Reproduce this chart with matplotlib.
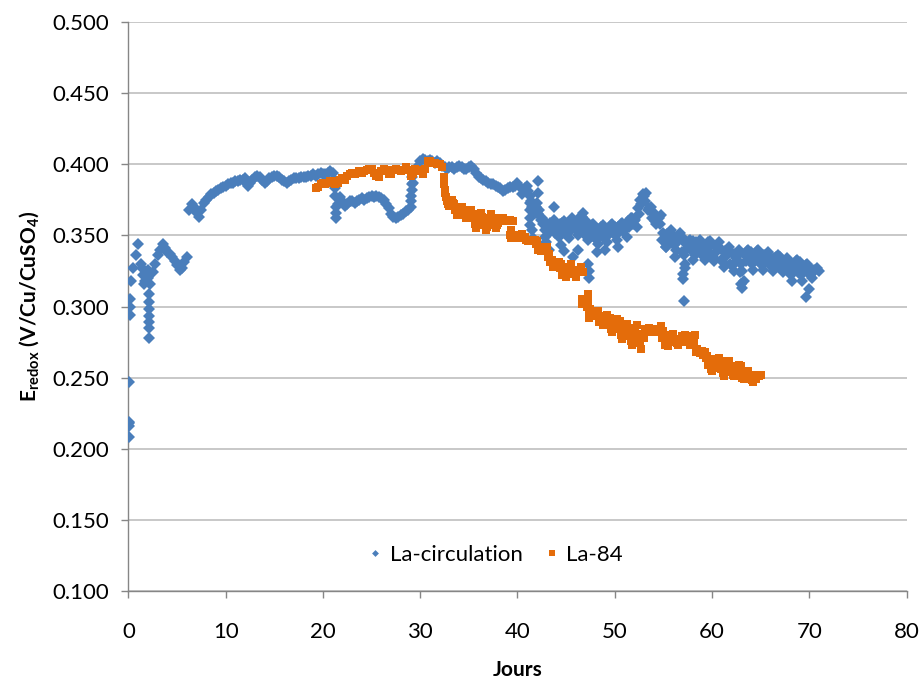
import numpy as np
import matplotlib
matplotlib.use("Agg")
import matplotlib.pyplot as plt

plt.rcParams['font.family'] = ['Lato', 'DejaVu Sans']
plt.rcParams['mathtext.fontset'] = 'custom'
plt.rcParams['mathtext.rm'] = 'Lato'
plt.rcParams['mathtext.bf'] = 'Lato:bold'
plt.rcParams['mathtext.it'] = 'Lato:italic'

# ---- La-circulation : logged every 6 h, redox potential in mV ----
circ_start = 0.0      # days
circ_step = 0.25      # days between readings
circ_mv = [
    300, 318, 327, 336, 344, 330, 322, 318, 320, 316, 324, 330,   # 0 - 2.75
    336, 340, 344, 341, 338, 337, 335, 332, 329, 326, 327, 331,   # 3 - 5.75
    335, 368, 372, 370, 366, 363, 368, 373, 375, 377, 379, 380,   # 6 - 8.75
    381, 382, 383, 384, 385, 386, 387, 387, 388, 388, 389, 389,   # 9 - 11.75
    390, 385, 387, 389, 391, 392, 391, 389, 387, 388, 390, 391,   # 12 - 14.75
    392, 392, 391, 389, 388, 387, 388, 389, 390, 390, 390, 391,   # 15 - 17.75
    391, 391, 392, 392, 393, 392, 393, 394, 393, 393, 394, 395,   # 18 - 20.75
    394, 383, 372, 377, 374, 371, 372, 374, 374, 373, 374, 375,   # 21 - 23.75
    376, 375, 376, 377, 378, 377, 378, 377, 376, 375, 372, 369,   # 24 - 26.75
    365, 363, 362, 363, 364, 365, 367, 368, 370, 387, 395, 399,   # 27 - 29.75
    402, 404, 403, 402, 403, 402, 401, 402, 401, 399, 398, 397,   # 30 - 32.75
    398, 398, 397, 398, 399, 398, 397, 397, 398, 399, 397, 394,   # 33 - 35.75
    391, 390, 389, 388, 387, 386, 386, 385, 384, 383, 381, 382,   # 36 - 38.75
    383, 384, 384, 385, 387, 384, 379, 383, 385, 378, 370, 366,   # 39 - 41.75
    373, 368, 362, 360, 357, 352, 356, 361, 356, 349, 355, 360,   # 42 - 44.75
    357, 348, 354, 360, 358, 350, 357, 366, 360, 347, 352, 358,   # 45 - 47.75
    355, 344, 350, 357, 354, 345, 352, 358, 356, 347, 353, 359,   # 48 - 50.75
    357, 349, 356, 362, 360, 356, 365, 372, 378, 380, 369, 370,   # 51 - 53.75
    366, 358, 362, 364, 352, 342, 348, 354, 350, 340, 346, 352,   # 54 - 56.75
    348, 330, 341, 347, 346, 336, 342, 347, 344, 333, 340, 346,   # 57 - 59.75
    344, 332, 339, 345, 340, 328, 336, 342, 338, 325, 334, 340,   # 60 - 62.75
    330, 318, 332, 340, 338, 326, 334, 340, 337, 326, 333, 338,   # 63 - 65.75
    335, 325, 331, 336, 335, 324, 330, 334, 331, 318, 327, 333,   # 66 - 68.75
    331, 318, 326, 330, 328, 320, 325, 327, 325,                  # 69 - 71
]

# intermediate readings (3 h offset) over the unsettled period
circ_mid_start = 41.125
circ_mid_step = 0.25
circ_mid_mv = [
    381, 374, 368, 370, 365, 361, 358, 354, 354, 359, 358, 352,   # 41.1 - 43.9
    352, 358, 359, 352, 351, 357, 362, 355, 353, 362, 363, 353,   # 44.1 - 46.9
    349, 355, 357, 349, 347, 354, 356, 349, 349, 355, 357, 351,   # 47.1 - 49.9
    350, 356, 358, 353, 355, 360, 362, 358, 361, 369, 375, 379,   # 50.1 - 52.9
    374, 368, 368, 362, 360, 363, 358, 347, 345, 351, 352, 345,   # 53.1 - 55.9
    343, 349, 350, 338, 336, 344, 346, 340, 339, 345, 345, 337,   # 56.1 - 58.9
    336, 343, 345, 336, 335, 342, 342, 333, 331, 339, 339, 330,   # 59.1 - 61.9
    329, 337, 336, 324, 325, 336, 339, 332, 330, 337, 339, 331,   # 62.1 - 64.9
    329, 336, 337, 330, 328, 334, 335, 329, 327, 332, 333, 325,   # 65.1 - 67.9
    322, 330, 332, 324, 322, 328, 329, 324, 322, 326, 326,        # 68.1 - 70.6
]

# isolated readings (start-up, sudden steps and spikes)
circ_extra_days = [0.05, 0.05, 0.07, 0.10, 0.10, 0.15, 0.20, 0.12,
                   1.40, 1.60, 1.80, 2.00,
                   2.10, 2.10, 2.10, 2.15, 2.15, 2.15, 2.10,
                   21.20, 21.25, 21.30, 21.30, 21.35,
                   29.10, 29.10, 29.15, 29.20, 29.20,
                   41.30, 41.30, 41.30, 41.30, 41.50, 41.60, 42.10, 42.10,
                   42.60, 42.80, 42.90, 43.20, 43.80, 44.50, 44.80, 45.70,
                   46.20, 47.30, 47.40, 47.40, 48.20, 49.00, 50.30,
                   55.30, 56.20, 57.00, 57.00, 57.10, 57.20, 58.00,
                   63.00, 63.10, 69.70, 70.00]
circ_extra_mv = [208, 216, 218, 219, 247, 294, 305, 300,
                 327, 316, 324, 326,
                 309, 303, 298, 293, 289, 285, 278,
                 388, 378, 370, 366, 362,
                 374, 378, 382, 386, 391,
                 373, 368, 362, 357, 354, 348, 388, 380,
                 361, 349, 345, 340, 370, 343, 339, 335,
                 340, 330, 325, 320, 338, 340, 342,
                 342, 335, 323, 319, 304, 327, 333,
                 316, 313, 307, 312]

# ---- La-84 : logged every 6 h, redox potential in mV ----
la84_start = 19.25
la84_step = 0.25
la84_mv = [
    383, 384, 386,                                                # 19.25 - 19.75
    387, 386, 387, 388, 388, 386, 387, 389, 390, 389, 392, 393,   # 20 - 22.75
    394, 393, 394, 395, 394, 395, 396, 397, 397, 394, 392, 391,   # 23 - 25.75
    395, 397, 396, 393, 393, 396, 397, 396, 395, 396, 398, 396,   # 26 - 28.75
    392, 393, 397, 396, 395, 393, 397, 402, 402, 401, 401, 400,   # 29 - 31.75
    400, 398, 380, 374, 371, 375, 372, 364, 366, 370, 366, 362,   # 32 - 34.75
    364, 368, 362, 355, 360, 366, 360, 354, 359, 365, 360, 355,   # 35 - 37.75
    359, 362, 362, 360, 360, 361, 360, 349, 348, 350, 351, 349,   # 38 - 40.75
    347, 347, 346, 347, 346, 342, 339, 340, 342, 337, 333, 329,   # 41 - 43.75
    328, 331, 330, 324, 321, 327, 330, 326, 321, 325, 328, 324,   # 44 - 46.75
    302, 303, 298, 296, 293, 297, 292, 287, 291, 294, 292, 282,   # 47 - 49.75
    287, 291, 290, 277, 283, 288, 285, 273, 280, 287, 280, 270,   # 50 - 52.75
    278, 283, 285, 283, 282, 283, 282, 286, 283, 274, 272, 280,   # 53 - 55.75
    281, 277, 273, 276, 279, 280, 277, 273, 278, 280, 270, 267,   # 56 - 58.75
    269, 268, 265, 263, 255, 257, 262, 264, 262, 251, 256, 262,   # 59 - 61.75
    258, 251, 253, 259, 258, 249, 252, 255, 252, 247, 249, 252,   # 62 - 64.75
    252,                                                          # 65
]

# intermediate readings (3 h offset) once the potential starts to fall
la84_mid_start = 32.625
la84_mid_step = 0.25
la84_mid_mv = [
    377, 372, 373, 373, 368, 365, 368, 368, 364, 363, 366, 365,   # 32.6 - 35.4
    358, 357, 363, 363, 357, 356, 362, 362, 357, 357, 360, 362,   # 35.6 - 38.4
    361, 360, 360, 354, 348, 349, 350, 350, 348, 347, 346, 346,   # 38.6 - 41.4
    346, 344, 340, 339, 341, 339, 335, 331, 328, 330, 330, 327,   # 41.6 - 44.4
    322, 324, 328, 328, 323, 323, 326, 326, 305, 302, 300, 297,   # 44.6 - 47.4
    294, 295, 294, 289, 289, 292, 293, 287, 284, 289, 290, 284,   # 47.6 - 50.4
    280, 286, 286, 279, 276, 283, 283, 275, 274, 281, 284, 284,   # 50.6 - 53.4
    282, 282, 282, 284, 284, 278, 273, 276, 280, 279, 275, 274,   # 53.6 - 56.4
    277, 279, 278, 275, 275, 279, 275, 268, 268, 268, 266, 264,   # 56.6 - 59.4
    259, 256, 259, 263, 263, 256, 253, 259, 260, 254, 252, 256,   # 59.6 - 62.4
    258, 253, 250, 253, 253, 249, 248, 250, 251, 251,             # 62.6 - 64.9
]

la84_extra_days = [32.40, 32.45, 32.50, 39.20, 39.30, 46.60, 47.30, 47.40, 47.40]
la84_extra_mv = [391, 386, 382, 350, 348, 302, 309, 297, 292]


def series_days(start, step, values):
    """Reading times for a regularly logged block of values."""
    return start + step * np.arange(len(values))


circ_x = np.concatenate([series_days(circ_start, circ_step, circ_mv),
                         series_days(circ_mid_start, circ_mid_step, circ_mid_mv),
                         circ_extra_days])
circ_y = np.concatenate([circ_mv, circ_mid_mv, circ_extra_mv]) / 1000.0
la84_x = np.concatenate([series_days(la84_start, la84_step, la84_mv),
                         series_days(la84_mid_start, la84_mid_step, la84_mid_mv),
                         la84_extra_days])
la84_y = np.concatenate([la84_mv, la84_mid_mv, la84_extra_mv]) / 1000.0

blue = '#4A7EBB'
orange = '#E46C0A'
grid_col = '#BFBFBF'
axis_col = '#868686'

fig = plt.figure(figsize=(9.19, 6.79), dpi=100)
ax = fig.add_axes([0.1398, 0.1296, 0.8466, 0.838])

ax.plot(circ_x, circ_y, ls='none', marker='D', ms=5.8, color=blue,
        mew=0, label='La-circulation', zorder=3)
ax.plot(la84_x, la84_y, ls='none', marker='s', ms=6.3, color=orange,
        mew=0, label='La-84', zorder=4)

ax.set_xlim(0, 80)
ax.set_ylim(0.1, 0.5)
ax.set_xticks(np.arange(0, 81, 10))
ax.set_yticks(np.arange(0.1, 0.5001, 0.05))
ax.yaxis.set_major_formatter(matplotlib.ticker.FormatStrFormatter('%.3f'))

ax.grid(axis='y', color=grid_col, lw=1.2)
ax.set_axisbelow(True)
for s in ('top', 'right'):
    ax.spines[s].set_visible(False)
for s in ('left', 'bottom'):
    ax.spines[s].set_color(axis_col)
    ax.spines[s].set_linewidth(1.0)
ax.tick_params(direction='out', length=5, width=1.0, color=axis_col,
               labelsize=16, labelcolor='black')
ax.tick_params(axis='y', pad=9)
ax.tick_params(axis='x', pad=17)

ax.set_xlabel('Jours', fontsize=15, fontweight='bold', labelpad=13)
ax.set_ylabel(r'$\mathbf{E_{redox}\ (V/Cu/CuSO_4)}$', fontsize=15, labelpad=8)

leg = ax.legend(loc='center', bbox_to_anchor=(0.472, 0.063), ncol=2,
                frameon=False, fontsize=16, handlelength=0.6,
                handletextpad=0.35, columnspacing=1.0, markerscale=0.6)

fig.savefig('out.png', dpi=100)
